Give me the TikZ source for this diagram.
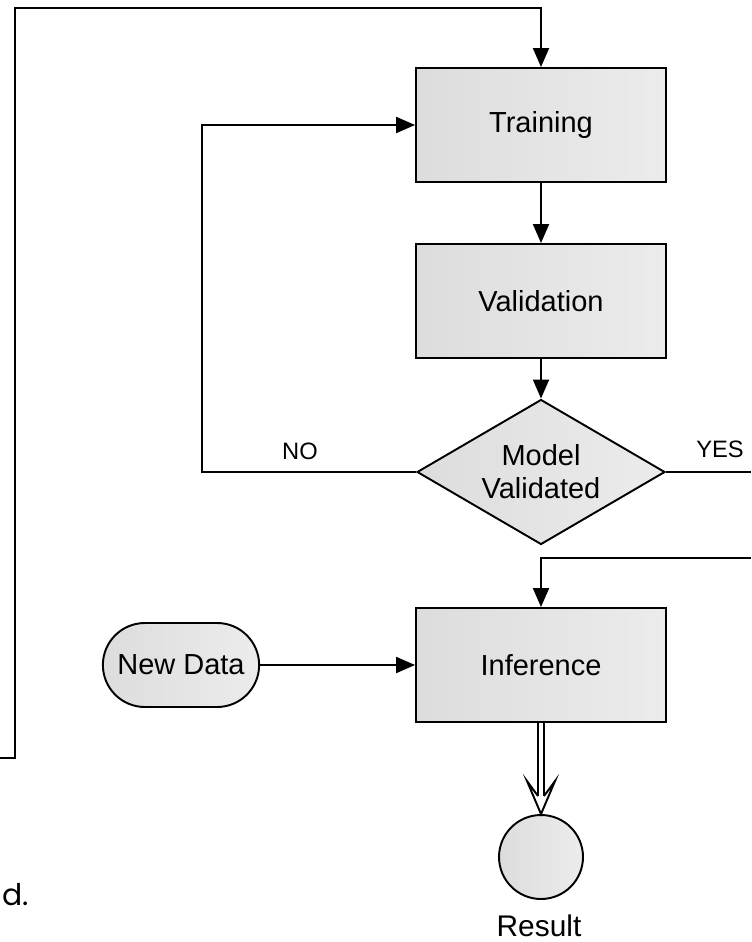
\documentclass[tikz,border=0pt]{standalone}
\usepackage{fontspec}
\setmainfont{Liberation Sans}
\newfontfamily\roundfont{Poppins}
\usetikzlibrary{arrows.meta,shapes.geometric,shapes.misc}

\begin{document}
\begin{tikzpicture}[x=0.02cm, y=-0.02cm,
	line/.style={line width=1.1pt},
	flow/.style={line, -{Triangle[length=0.38cm,width=0.32cm]}},
	block/.style={draw, line width=1.1pt, left color=gray!27, right color=gray!15, minimum width=5cm, minimum height=2.28cm, font=\fontsize{16.5}{20}\selectfont},
	decision/.style={draw, line width=1.1pt, diamond, shape aspect=1.7, left color=gray!27, right color=gray!15, minimum width=4.96cm, minimum height=2.9cm, inner sep=0pt, align=center, font=\fontsize{16.5}{18.7}\selectfont},
	terminal/.style={draw, line width=1.1pt, rounded rectangle, left color=gray!27, right color=gray!15, minimum width=3.36cm, minimum height=1.68cm, font=\fontsize{16.5}{20}\selectfont},
	endpoint/.style={draw, line width=1.1pt, circle, left color=gray!27, right color=gray!15, minimum size=1.68cm, inner sep=0pt},
	small/.style={font=\fontsize{13.5}{16}\selectfont}
]
	\useasboundingbox (0,0) rectangle (751,942);

	% Steps
	\node[block] (train) at (541,125) {Training};
	\node[block] (valid) at (541,301) {Validation};
	\node[decision] (check) at (541,472) {Model\\Validated};
	\node[block] (infer) at (541,665) {Inference};
	\node[terminal] (newdata) at (181,665) {New Data};
	\node[endpoint] (result) at (541,857) {};
	\node[font=\fontsize{17}{20}\selectfont, inner sep=1pt] (resultlbl) at (539,926) {Result};
	\node[anchor=base west, font=\roundfont\fontsize{17}{20}\selectfont] (cuttext) at (-4,905) {d.};

	% Outer loop back to training
	\coordinate (loopin) at (0,758);
	\draw[flow] (loopin) -- (15,758) -- (15,8) -| (train.north);

	% Main flow
	\draw[flow] (train) -- (valid);
	\draw[flow] (valid) -- (check);

	% NO branch
	\draw[flow] (check.west) -- (202,472) |- (train.west);
	\node[small] (nolbl) at (300,451) {NO};

	% YES branch
	\coordinate (yesout) at (751,472);
	\draw[line] (check.east) -- (yesout);
	\node[small] (yeslbl) at (720,449) {YES};

	% Back into inference
	\coordinate (backin) at (751,558);
	\draw[flow] (backin) -| (infer.north);
	\draw[flow] (newdata) -- (infer);

	% Result arrow
	\draw[line, double, double distance=0.08cm] (infer.south) -- ([shift={(0,-18)}]result.north);
	\draw[line, fill=white] ([shift={(-3,-18)}]result.north) -- ([shift={(-14,-33)}]result.north) -- (result.north) -- ([shift={(14,-33)}]result.north) -- ([shift={(3,-18)}]result.north);

\end{tikzpicture}
\end{document}
